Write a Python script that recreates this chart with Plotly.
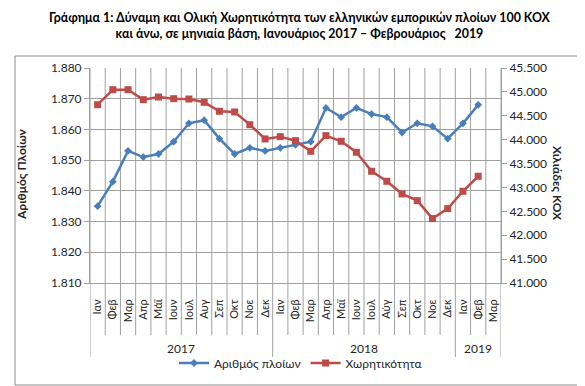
import plotly.graph_objects as go

# ---------------- data ----------------
years = ["2017"] * 12 + ["2018"] * 12 + ["2019"] * 3
months = ["Ιαν", "Φεβ", "Μαρ", "Απρ", "Μάϊ", "Ιουν", "Ιουλ", "Αυγ", "Σεπ", "Οκτ", "Νοε", "Δεκ",
          "Ιαν", "Φεβ", "Μαρ", "Απρ", "Μαϊ", "Ιουν", "Ιουλ", "Αύγ", "Σεπ", "Οκτ", "Νοε", "Δεκ",
          "Ιαν", "Φεβ", "Μαρ"]
ships = [1835, 1843, 1853, 1851, 1852, 1856, 1862, 1863, 1857, 1852, 1854, 1853,
         1854, 1855, 1856, 1867, 1864, 1867, 1865, 1864, 1859, 1862, 1861, 1857,
         1862, 1868, None]
capacity = [44732, 45046, 45046, 44837, 44893, 44858, 44851, 44782, 44594, 44580, 44314, 44015,
            44063, 43979, 43757, 44084, 43966, 43736, 43339, 43129, 42864, 42724, 42348, 42557,
            42920, 43234, None]

title_text = ("Γράφημα 1: Δύναμη και Ολική Χωρητικότητα των ελληνικών εμπορικών πλοίων 100 ΚΟΧ"
              "<br>και άνω, σε μηνιαία βάση, Ιανουάριος 2017 – Φεβρουάριος   2019")

# ---------------- layout geometry helpers ----------------
W, H = 585, 386
L, R, T, B = 82, 493, 60, 275  # plot area in pixels


def px(x):
    return (x - L) / (R - L)


def py(y):
    return (B - y) / (B - T)


FONT = "Lato, 'Open Sans', sans-serif"
GRID = "#a0a0a0"
TXT = "#262626"

cats = [f"{m} {y}" for m, y in zip(months, years)]

fig = go.Figure()
fig.add_trace(go.Scatter(
    x=cats, y=ships, name="Αριθμός πλοίων", mode="lines+markers",
    line=dict(color="#4a7ebb", width=2.5),
    marker=dict(symbol="diamond", size=6, color="#4a7ebb"),
    yaxis="y"))
fig.add_trace(go.Scatter(
    x=cats, y=capacity, name="Χωρητικότητα", mode="lines+markers",
    line=dict(color="#be4b48", width=2.5),
    marker=dict(symbol="square", size=7, color="#be4b48"),
    yaxis="y2"))

shapes = []
n = len(cats)
# vertical gridlines at category boundaries
for i in range(n + 1):
    shapes.append(dict(type="line", xref="x", yref="paper", x0=i - 0.5, x1=i - 0.5,
                       y0=0, y1=1, line=dict(color=GRID, width=1), layer="below"))
# separators in the label area
year_bounds = set()
start = 0
groups = []
for i in range(1, n + 1):
    if i == n or years[i] != years[start]:
        groups.append((start, i - 1, years[start]))
        year_bounds.add(start)
        year_bounds.add(i)
        start = i
for i in range(n + 1):
    y_end = py(349) if i in year_bounds else py(327)
    shapes.append(dict(type="line", xref="x", yref="paper", x0=i - 0.5, x1=i - 0.5,
                       y0=0, y1=y_end, line=dict(color=GRID, width=1)))
# chart border
shapes.append(dict(type="rect", xref="paper", yref="paper",
                   x0=px(7), x1=px(577), y0=py(377), y1=py(48),
                   line=dict(color="#8c8c8c", width=1)))

annotations = []
for a, b, yl in groups:
    annotations.append(dict(x=(a + b) / 2, y=py(340), xref="x", yref="paper",
                            text=yl, showarrow=False, yanchor="middle",
                            font=dict(size=12, color=TXT, family=FONT)))
annotations.append(dict(x=px(292), y=py(18), xref="paper", yref="paper",
                        text="<b>" + title_text + "</b>", showarrow=False,
                        xanchor="center", yanchor="middle",
                        font=dict(size=12.4, color="#000", family=FONT)))
annotations.append(dict(x=px(13), y=py(166), xref="paper", yref="paper",
                        text="<b>Αριθμός Πλοίων</b>", textangle=-90, showarrow=False,
                        xanchor="center", yanchor="middle",
                        font=dict(size=12, color=TXT, family=FONT)))
annotations.append(dict(x=px(550), y=py(175), xref="paper", yref="paper",
                        text="<b>Χιλιάδες ΚΟΧ</b>", textangle=90, showarrow=False,
                        xanchor="center", yanchor="middle",
                        font=dict(size=12, color=TXT, family=FONT)))

fig.update_layout(
    width=W, height=H,
    margin=dict(l=L, r=W - R, t=T, b=H - B),
    paper_bgcolor="white", plot_bgcolor="white",
    separators=",.",
    font=dict(family=FONT, color=TXT, size=12),
    showlegend=True,
    legend=dict(orientation="h", x=px(293), y=py(355), xanchor="center", yanchor="middle",
                font=dict(size=12, color=TXT, family=FONT), itemwidth=30,
                bgcolor="rgba(0,0,0,0)"),
    xaxis=dict(type="category", categoryorder="array", categoryarray=cats,
               range=[-0.5, n - 0.5], showgrid=False, zeroline=False,
               tickmode="array", tickvals=cats, ticktext=months, tickangle=-90,
               ticks="outside", ticklen=11, tickcolor="rgba(0,0,0,0)",
               tickfont=dict(size=11, color=TXT, family=FONT),
               showline=True, linecolor=GRID, linewidth=1),
    yaxis=dict(range=[1810, 1880], dtick=10, tick0=1810, tickformat=",d",
               showgrid=True, gridcolor=GRID, gridwidth=1, zeroline=False,
               showline=True, linecolor=GRID, linewidth=1,
               ticks="outside", ticklen=5, tickcolor=GRID,
               tickfont=dict(size=12, color=TXT, family=FONT)),
    yaxis2=dict(range=[41000, 45500], dtick=500, tick0=41000, tickformat=",d",
                overlaying="y", side="right", showgrid=False, zeroline=False,
                showline=True, linecolor=GRID, linewidth=1,
                ticks="outside", ticklen=5, tickcolor=GRID,
                tickfont=dict(size=12, color=TXT, family=FONT)),
    shapes=shapes,
    annotations=annotations,
)

fig.write_html("out.html")
